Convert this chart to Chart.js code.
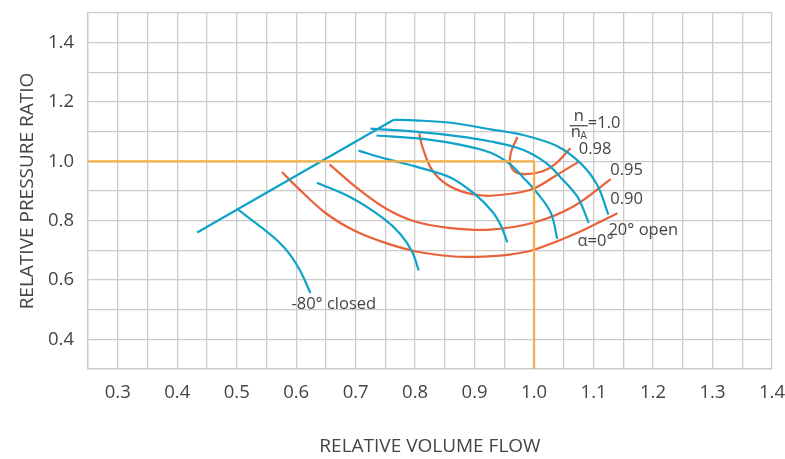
<!DOCTYPE html>
<html>
<head>
<meta charset="utf-8">
<script src="https://cdn.jsdelivr.net/npm/chart.js@4.4.1/dist/chart.umd.min.js"></script>
<style>
  html,body{margin:0;padding:0;background:#fff;}
  #wrap{width:785px;height:459px;}
</style>
</head>
<body>
<div id="wrap"><canvas id="chart" width="785" height="459"></canvas></div>
<script>
// Axis setup
const xTitle = "RELATIVE VOLUME FLOW";
const yTitle = "RELATIVE PRESSURE RATIO";
const xRange = [0.25, 1.4];
const yRange = [0.3, 1.5];

// Design point cross-hair (flow 1.0 / ratio 1.0)
const designH = [[0.25,1.0],[1.0,1.0]];
const designV = [[1.0,1.0],[1.0,0.3]];

// Surge line
const surgeLine = [[0.4335,0.76],[0.764,1.14]];

// Guide vane lines (blue), most open first
const vaneOpen20 = [[0.764,1.14],[0.80,1.138],[0.86,1.13],[0.927,1.108],[0.983,1.088],[1.039,1.051],[1.078,0.994],[1.106,0.921],[1.125,0.82]];
const vaneB = [[0.725,1.11],[0.80,1.10],[0.87,1.085],[0.927,1.067],[0.98,1.04],[1.02,0.995],[1.045,0.945],[1.073,0.88],[1.092,0.792]];
const vaneZero = [[0.735,1.087],[0.80,1.078],[0.87,1.058],[0.927,1.029],[0.96,0.99],[0.982,0.945],[1.005,0.894],[1.028,0.827],[1.039,0.739]];
const vaneD = [[0.705,1.036],[0.75,1.009],[0.80,0.983],[0.86,0.945],[0.90,0.89],[0.93,0.83],[0.945,0.78],[0.955,0.727]];
const vaneE = [[0.635,0.928],[0.692,0.878],[0.745,0.81],[0.775,0.755],[0.795,0.695],[0.806,0.632]];
const vaneClosed80 = [[0.5025,0.837],[0.545,0.772],[0.57,0.73],[0.59,0.685],[0.607,0.63],[0.624,0.556]];

// Speed lines n/nA (orange)
const speed100 = [[0.972,1.082],[0.961,1.03],[0.960,0.99],[0.968,0.965],[0.985,0.957],[1.012,0.965],[1.035,0.99],[1.061,1.044]];
const speed98 = [[0.807,1.094],[0.812,1.05],[0.828,0.972],[0.854,0.921],[0.888,0.893],[0.927,0.884],[0.994,0.904],[1.039,0.955],[1.076,1.0]];
const speed95 = [[0.656,0.99],[0.70,0.914],[0.75,0.842],[0.80,0.797],[0.86,0.775],[0.927,0.77],[1.0,0.794],[1.066,0.848],[1.129,0.94]];
const speed90 = [[0.576,0.964],[0.601,0.914],[0.65,0.825],[0.70,0.764],[0.75,0.725],[0.80,0.697],[0.86,0.68],[0.90,0.678],[0.955,0.685],[1.0,0.702],[1.066,0.753],[1.14,0.825]];

// Curve labels (data coords, left/middle anchored)
const curveLabels = [
  {text:"0.98", x:1.075, y:1.042},
  {text:"0.95", x:1.128, y:0.969},
  {text:"0.90", x:1.128, y:0.871},
  {text:"20\u00b0 open", x:1.125, y:0.768},
  {text:"\u03b1=0\u00b0", x:1.073, y:0.729},
  {text:"-80\u00b0 closed", x:0.592, y:0.517}
];
const ratioLabel = {x:1.060, y:1.120, value:"=1.0"};

const BLUE = "#0fa3c8", ORANGE = "#e8633a", REF = "#f6ad46";
const TEXT = "#444444", GRID = "#cbcbcb";
const FONT = "'Open Sans', 'Noto Sans', sans-serif";

function pts(arr){ return arr.map(p=>({x:p[0],y:p[1]})); }
function line(data,color,tension){
    return {data:pts(data),borderColor:color,borderWidth:2.2,pointRadius:0,tension:tension||0,fill:false};
}

// Draw text labels on top
const labelPlugin = {
    id:"curveLabels",
    afterDatasetsDraw(chart){
        const ctx=chart.ctx, xs=chart.scales.x, ys=chart.scales.y;
        ctx.save();
        ctx.fillStyle=TEXT;
        ctx.textBaseline="middle";
        ctx.textAlign="left";
        ctx.font="16.5px "+FONT;
        curveLabels.forEach(l=>{
            ctx.fillText(l.text, xs.getPixelForValue(l.x), ys.getPixelForValue(l.y));
        });
        // n / nA fraction
        let bx=xs.getPixelForValue(ratioLabel.x), by=ys.getPixelForValue(ratioLabel.y);
        ctx.strokeStyle=TEXT; ctx.lineWidth=1.2;
        ctx.beginPath(); ctx.moveTo(bx,by); ctx.lineTo(bx+18,by); ctx.stroke();
        ctx.textAlign="center";
        ctx.fillText("n", bx+9, by-9);
        ctx.fillText("n", bx+6, by+7);
        ctx.font="10px "+FONT;
        ctx.fillText("A", bx+14, by+10);
        ctx.font="16.5px "+FONT;
        ctx.textAlign="left";
        ctx.fillText(ratioLabel.value, bx+18, by-2);
        ctx.restore();
    }
};

new Chart(document.getElementById("chart"),{
    type:"line",
    data:{datasets:[
        line(designH,REF), line(designV,REF),
        line(surgeLine,BLUE),
        line(vaneOpen20,BLUE,0.35), line(vaneB,BLUE,0.35), line(vaneZero,BLUE,0.35),
        line(vaneD,BLUE,0.35), line(vaneE,BLUE,0.35), line(vaneClosed80,BLUE,0.35),
        line(speed100,ORANGE,0.35), line(speed98,ORANGE,0.35),
        line(speed95,ORANGE,0.35), line(speed90,ORANGE,0.35)
    ]},
    options:{
        responsive:false,
        animation:false,
        layout:{padding:{top:13,right:13,left:0,bottom:0}},
        plugins:{legend:{display:false},tooltip:{enabled:false}},
        scales:{
            x:{
                type:"linear", min:xRange[0], max:xRange[1],
                border:{color:GRID,width:1.3},
                grid:{color:GRID,lineWidth:1.3,drawTicks:false},
                ticks:{
                    stepSize:0.05, autoSkip:false, maxRotation:0, padding:13,
                    color:TEXT, font:{family:FONT,size:18.5},
                    callback:v=>Math.round(v*100)%10===0 ? v.toFixed(1) : ""
                },
                title:{display:true,text:xTitle,color:TEXT,font:{family:FONT,size:19},padding:{top:0,bottom:1}},
                afterFit(s){ s.height=90; s.paddingLeft=0; s.paddingRight=0; }
            },
            y:{
                type:"linear", min:yRange[0], max:yRange[1],
                border:{color:GRID,width:1.3},
                grid:{color:GRID,lineWidth:1.3,drawTicks:false},
                ticks:{
                    stepSize:0.1, autoSkip:false, padding:14,
                    color:TEXT, font:{family:FONT,size:18.5},
                    callback:v=>{ let k=Math.round(v*10); return (k%2===0 && k<15) ? v.toFixed(1) : ""; }
                },
                title:{display:true,text:yTitle,color:TEXT,font:{family:FONT,size:19},padding:{top:16,bottom:0}},
                afterFit(s){ s.width=88; s.paddingTop=0; s.paddingBottom=0; }
            }
        }
    },
    plugins:[labelPlugin]
});
</script>
</body>
</html>
